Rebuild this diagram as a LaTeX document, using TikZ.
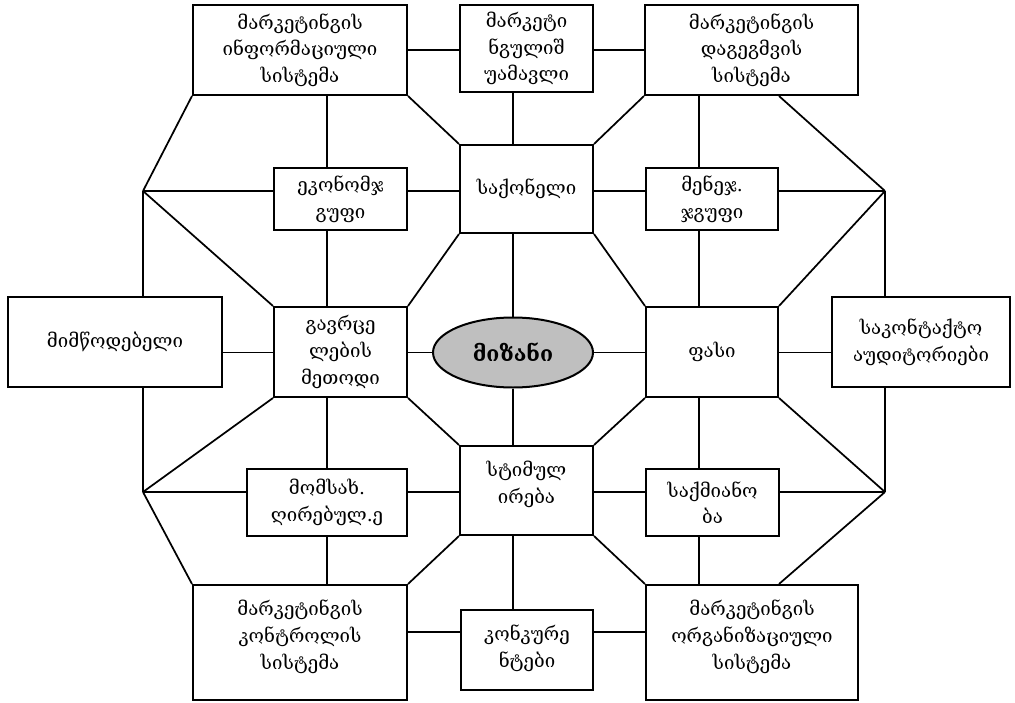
\documentclass[tikz,border=0pt]{standalone}
\usepackage{fontspec}
\setmainfont{DejaVu Serif}
\usetikzlibrary{shapes.geometric,calc}

\tikzset{
  blk/.style={draw, line width=1.5pt, align=center, inner sep=2pt,
              font=\fontsize{14}{20}\selectfont},
  wh/.style 2 args={minimum width=#1*0.75pt, minimum height=#2*0.75pt},
  ln/.style={line width=1.3pt},
}

\begin{document}
\begin{tikzpicture}[x=0.75pt,y=-0.75pt]
\useasboundingbox (0,0) rectangle (1015,703);

% top row
\node[blk,wh={214}{90}] (mis) at (300,50) {მარკეტინგის\\ინფორმაციული\\სისტემა};
\node[blk,wh={133}{87}] (mid) at (526.5,48.5) {მარკეტი\\ნგულიშ\\უამავლი};
\node[blk,wh={213}{90}] (plan) at (751.5,50) {მარკეტინგის\\დაგეგმვის\\სისტემა};

% second row
\node[blk,wh={133}{62}] (eco) at (340.5,199) {ეკონომჯ\\გუფი};
\node[blk,wh={133}{88}] (prod) at (526.5,189) {საქონელი};
\node[blk,wh={132}{62}] (mgr) at (712,199) {მენეჯ.\\ჯგუფი};

% middle row
\node[blk,wh={214}{90}] (sup) at (115,342) {მიმწოდებელი};
\node[blk,wh={133}{90}] (dist) at (340.5,352) {გავრცე\\ლების\\მეთოდი};
\node[ellipse,draw,line width=1.5pt,fill=gray!50,wh={160}{70},
      font=\fontsize{16}{20}\selectfont\bfseries] (goal) at (513,352.5) {მიზანი};
\node[blk,wh={132}{90}] (price) at (712,352) {ფასი};
\node[blk,wh={178}{90}] (aud) at (921,342) {საკონტაქტო\\აუდიტორიები};

% fourth row
\node[blk,wh={160}{67}] (serv) at (327,502.5) {მომსახ.\\ღირებულ.ე};
\node[blk,wh={133}{89}] (stim) at (526.5,490.5) {სტიმულ\\ირება\\[-8pt]};
\node[blk,wh={133}{67}] (bus) at (712.5,502.5) {საქმიანო\\ბა};

% bottom row
\node[blk,wh={214}{115}] (ctrl) at (300,642.5) {მარკეტინგის\\კონტროლის\\სისტემა\\[-8pt]};
\node[blk,wh={132}{80}] (comp) at (527,650) {კონკურე\\ნტები\\[-14pt]};
\node[blk,wh={212}{115}] (org) at (752,642.5) {მარკეტინგის\\ორგანიზაციული\\სისტემა\\[-8pt]};

% hubs and line positions
\coordinate (hubNW) at (143,191);
\coordinate (hubNE) at (885,191);
\coordinate (hubSW) at (143,492);
\coordinate (hubSE) at (885,492);
\coordinate (colA) at (327,0);
\coordinate (colB) at (513,0);
\coordinate (colC) at (699,0);
\coordinate (colD) at (779,0);
\coordinate (row5) at (0,632);

% horizontal links
\draw[ln] (mis.east) -- (mis.east -| mid.west);
\draw[ln] (mid.east |- mis.east) -- (plan.west |- mis.east);
\draw[ln] (hubNW) -- (hubNW -| eco.west);
\draw[ln] (eco.east |- hubNW) -- (prod.west |- hubNW);
\draw[ln] (prod.east |- hubNW) -- (mgr.west |- hubNW);
\draw[ln] (mgr.east |- hubNE) -- (hubNE);
\draw[ln] (sup.east |- goal) -- (dist.west |- goal);
\draw[ln] (dist.east |- goal) -- (goal.west);
\draw[ln] (goal.east) -- (price.west |- goal);
\draw[ln] (price.east |- goal) -- (aud.west |- goal);
\draw[ln] (hubSW) -- (hubSW -| serv.west);
\draw[ln] (serv.east |- hubSW) -- (stim.west |- hubSW);
\draw[ln] (stim.east |- hubSW) -- (bus.west |- hubSW);
\draw[ln] (bus.east |- hubSE) -- (hubSE);
\draw[ln] (ctrl.east |- row5) -- (comp.west |- row5);
\draw[ln] (comp.east |- row5) -- (org.west |- row5);

% vertical links
\foreach \a/\b in {mis/eco,eco/dist,dist/serv,serv/ctrl}
  \draw[ln] (\a.south -| colA) -- (\b.north -| colA);
\foreach \a/\b in {mid/prod,stim/comp}
  \draw[ln] (\a.south -| colB) -- (\b.north -| colB);
\draw[ln] (prod.south -| colB) -- (goal.north);
\draw[ln] (goal.south) -- (stim.north -| colB);
\foreach \a/\b in {plan/mgr,mgr/price,price/bus,bus/org}
  \draw[ln] (\a.south -| colC) -- (\b.north -| colC);
\draw[ln] (hubNW) -- (sup.north -| hubNW);
\draw[ln] (sup.south -| hubSW) -- (hubSW);
\draw[ln] (hubNE) -- (aud.north -| hubNE);
\draw[ln] (aud.south -| hubSE) -- (hubSE);

% diagonals
\draw[ln] (hubNE) -- (plan.south -| colD);
\draw[ln] (hubSE) -- (org.north -| colD);
\foreach \a/\b in {hubNW/mis.south west,hubNW/dist.north west,
                   hubSW/dist.south west,hubSW/ctrl.north west,
                   hubNE/price.north east,hubSE/price.south east,
                   mis.south east/prod.north west,plan.south west/prod.north east,
                   prod.south west/dist.north east,prod.south east/price.north west,
                   dist.south east/stim.north west,price.south west/stim.north east,
                   stim.south west/ctrl.north east,stim.south east/org.north west}
  \draw[ln] (\a) -- (\b);

\end{tikzpicture}
\end{document}
